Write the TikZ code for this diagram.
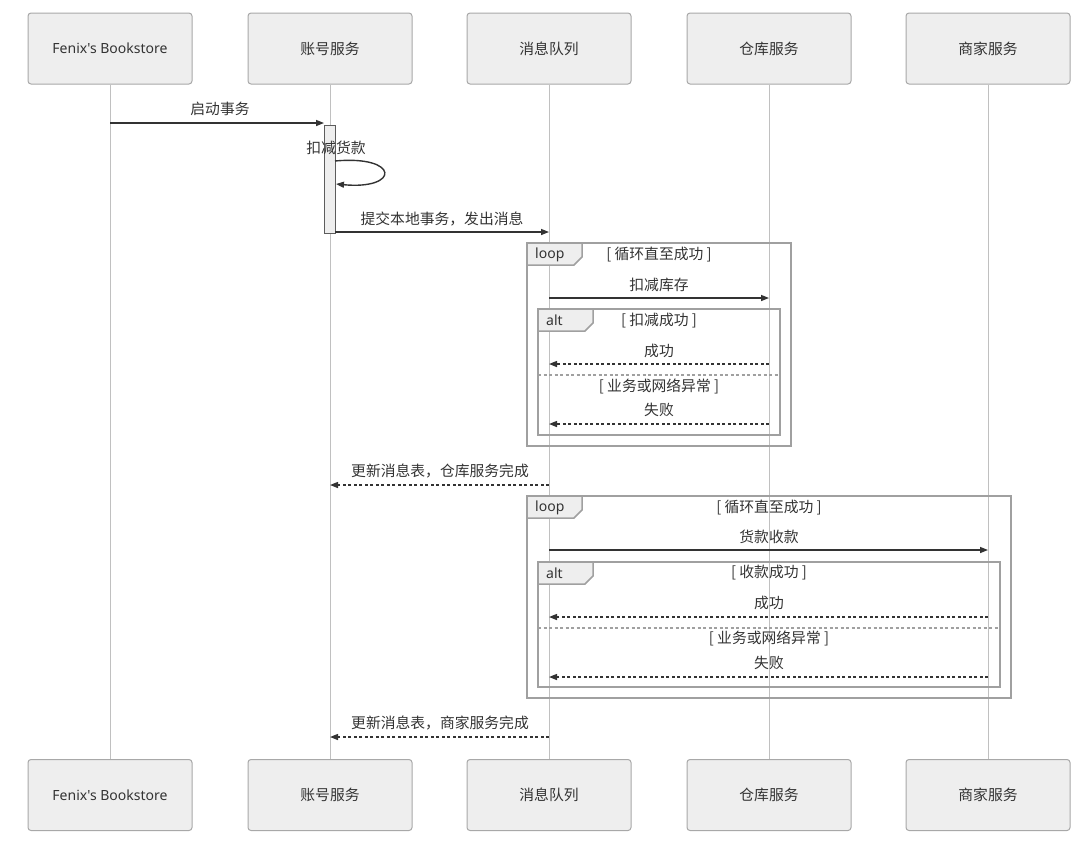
\documentclass[tikz,border=0pt]{standalone}
\usepackage{fontspec}
\setmainfont{Noto Sans CJK SC}
\newfontfamily\latinfont{Noto Sans}
\usetikzlibrary{arrows.meta}
\definecolor{boxfill}{HTML}{EEEEEE}
\definecolor{boxline}{HTML}{A8A8A8}
\definecolor{lifeline}{HTML}{C0C0C0}
\definecolor{msg}{HTML}{333333}
\definecolor{frame}{HTML}{A0A0A0}
\definecolor{txt}{HTML}{333333}
\tikzset{
  x=1pt, y=-1pt,
  every node/.style={font=\fontsize{14.8}{17}\selectfont, text=txt, inner sep=0pt},
  part/.style={draw=boxline, fill=boxfill, rounded corners=3pt, minimum width=164pt, minimum height=71pt, line width=1pt},
  life/.style={draw=lifeline, line width=1pt},
  tip/.style={-{Triangle[length=8pt,width=6pt]}},
  call/.style={tip, draw=msg, line width=1.4pt},
  reply/.style={tip, draw=msg, line width=1.4pt, dash pattern=on 3pt off 2.5pt},
  fr/.style={draw=frame, line width=2pt},
  tab/.style={draw=frame, fill=boxfill, line width=1.5pt},
  sep/.style={draw=frame, line width=1.5pt, dash pattern=on 3pt off 2.5pt},
  lbl/.style={anchor=base},
  lat/.style={font=\latinfont\fontsize{14}{16}\selectfont},
}
\begin{document}
\begin{tikzpicture}
\useasboundingbox (0,0) rectangle (1086,847);
% participants
\node[part,lat] (t1) at (110,48.5) {Fenix's Bookstore};
\node[part,lat] (b1) at (110,795) {Fenix's Bookstore};
\foreach \n/\x/\t in {2/330/账号服务,3/549/消息队列,4/769/仓库服务,5/988/商家服务}{
  \node[part] (t\n) at (\x,48.5) {\t};
  \node[part] (b\n) at (\x,795) {\t};
}
\foreach \n in {1,...,5}{
  \draw[life] (t\n.south) -- (b\n.north);
}
% activation
\node[draw=msg!80, fill=boxfill, line width=1pt, minimum width=11pt, minimum height=108pt, anchor=north] (act) at (329.5,125) {};
% message 1
\coordinate (m1a) at (110,123); \coordinate (m1b) at (324,123);
\draw[call] (m1a) -- (m1b);
\node[lbl] (l1) at (220,114) {启动事务};
% self message
\node[lbl] (l2) at (336,153) {扣减货款};
\coordinate (s1) at (335,161); \coordinate (s2) at (336,184);
\draw[call] (s1) .. controls (400,155) and (400,190) .. (s2);
% message 3
\coordinate (m3a) at (335,232); \coordinate (m3b) at (549,232);
\draw[call] (m3a) -- (m3b);
\node[lbl] (l3) at (442,224) {提交本地事务，发出消息};

% loop frame 1
\draw[fr] (527,243) rectangle (791,446);
\draw[tab] (527,243) -- (582,243) -- (582,257) -- (574,265) -- (527,265) -- cycle;
\node[anchor=west,lat] (lp1) at (535,254.5) {loop};
\node (c1) at (659,254.5) {[ 循环直至成功 ]};
\coordinate (m4a) at (549,298); \coordinate (m4b) at (769,298);
\draw[call] (m4a) -- (m4b);
\node[lbl] (l4) at (659,290) {扣减库存};
% alt frame 1
\draw[fr] (538,309) rectangle (780,435);
\draw[tab] (538,309) -- (593,309) -- (593,323) -- (585,331) -- (538,331) -- cycle;
\node[anchor=west,lat] (al1) at (546,320.5) {alt};
\node (c2) at (659,320.5) {[ 扣减成功 ]};
\coordinate (m5a) at (769,364); \coordinate (m5b) at (549,364);
\draw[reply] (m5a) -- (m5b);
\node[lbl] (l5) at (659,356) {成功};
\coordinate (sp1a) at (538,375); \coordinate (sp1b) at (780,375);
\draw[sep] (sp1a) -- (sp1b);
\node (c3) at (659,386) {[ 业务或网络异常 ]};
\coordinate (m6a) at (769,424); \coordinate (m6b) at (549,424);
\draw[reply] (m6a) -- (m6b);
\node[lbl] (l6) at (659,415) {失败};

% message 7
\coordinate (m7a) at (549,485); \coordinate (m7b) at (330,485);
\draw[reply] (m7a) -- (m7b);
\node[lbl] (l7) at (440,476) {更新消息表，仓库服务完成};

% loop frame 2
\draw[fr] (527,496) rectangle (1011,698);
\draw[tab] (527,496) -- (582,496) -- (582,510) -- (574,518) -- (527,518) -- cycle;
\node[anchor=west,lat] (lp2) at (535,507.5) {loop};
\node (c4) at (769,507.5) {[ 循环直至成功 ]};
\coordinate (m8a) at (549,550); \coordinate (m8b) at (988,550);
\draw[call] (m8a) -- (m8b);
\node[lbl] (l8) at (769,542) {货款收款};
% alt frame 2
\draw[fr] (538,562) rectangle (1000,687);
\draw[tab] (538,562) -- (593,562) -- (593,576) -- (585,584) -- (538,584) -- cycle;
\node[anchor=west,lat] (al2) at (546,573) {alt};
\node (c5) at (769,573) {[ 收款成功 ]};
\coordinate (m9a) at (988,617); \coordinate (m9b) at (549,617);
\draw[reply] (m9a) -- (m9b);
\node[lbl] (l9) at (769,608) {成功};
\coordinate (sp2a) at (538,628); \coordinate (sp2b) at (1000,628);
\draw[sep] (sp2a) -- (sp2b);
\node (c6) at (769,638) {[ 业务或网络异常 ]};
\coordinate (m10a) at (988,677); \coordinate (m10b) at (549,677);
\draw[reply] (m10a) -- (m10b);
\node[lbl] (l10) at (769,668) {失败};

% message 11
\coordinate (m11a) at (549,737); \coordinate (m11b) at (330,737);
\draw[reply] (m11a) -- (m11b);
\node[lbl] (l11) at (440,728) {更新消息表，商家服务完成};
\end{tikzpicture}
\end{document}
